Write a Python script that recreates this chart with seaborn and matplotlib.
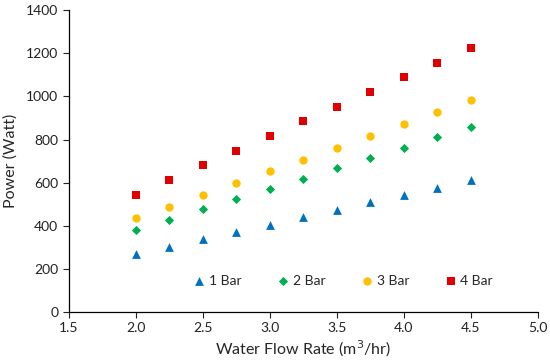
import numpy as np
import matplotlib.pyplot as plt
import pandas as pd
import seaborn as sns

flow_rate = [2.0, 2.25, 2.5, 2.75, 3.0, 3.25, 3.5, 3.75, 4.0, 4.25, 4.5]
bar_1 = [269, 303, 337, 371, 405, 440, 474, 510, 544, 576, 611]
bar_2 = [379, 427, 476, 524, 572, 618, 666, 716, 762, 811, 858]
bar_3 = [434, 488, 544, 598, 654, 706, 762, 817, 872, 926, 981]
bar_4 = [544, 612, 680, 748, 816, 884, 952, 1020, 1088, 1156, 1224]
series_names = ['1 Bar', '2 Bar', '3 Bar', '4 Bar']


def build_frame():
    rows = []
    for name, vals in zip(series_names, [bar_1, bar_2, bar_3, bar_4]):
        for x, y in zip(flow_rate, vals):
            rows.append({'flow': x, 'power': y, 'pressure': name})
    return pd.DataFrame(rows)


if __name__ == "__main__":

    df = build_frame()
    sns.set_style('white')
    plt.rcParams['font.family'] = ['Lato', 'DejaVu Sans']

    fig = plt.figure(figsize=(5.5, 3.62), dpi=100)
    ax = fig.add_axes([0.125, 0.138, 0.853, 0.834])

    palette = {'1 Bar': '#0070C0', '2 Bar': '#00B050', '3 Bar': '#FFC000', '4 Bar': '#E00000'}
    markers = {'1 Bar': '^', '2 Bar': 'D', '3 Bar': 'o', '4 Bar': 's'}
    sizes = {'1 Bar': 40, '2 Bar': 22, '3 Bar': 36, '4 Bar': 32}

    for name in series_names:
        sub = df[df['pressure'] == name]
        sns.scatterplot(data=sub, x='flow', y='power', color=palette[name],
                        marker=markers[name], s=sizes[name], linewidth=0,
                        label=name, ax=ax)

    ax.set_xlim(1.5, 5.0)
    ax.set_ylim(0, 1400)
    ax.set_xticks(np.arange(1.5, 5.01, 0.5))
    ax.set_xticklabels([f'{v:.1f}' for v in np.arange(1.5, 5.01, 0.5)])
    ax.set_yticks(np.arange(0, 1401, 200))
    ax.tick_params(axis='both', labelsize=10, colors='#222222', length=4,
                   direction='out', bottom=True, left=True)
    sns.despine(ax=ax)
    for sp in ['left', 'bottom']:
        ax.spines[sp].set_color('#000000')
        ax.spines[sp].set_linewidth(0.9)

    ax.set_xlabel('Water Flow Rate (m$^3$/hr)', fontsize=11.5, labelpad=3)
    ax.set_ylabel('Power (Watt)', fontsize=11.5, labelpad=6)

    ax.legend(loc='center', bbox_to_anchor=(0.585, 0.103), ncol=4, frameon=False,
              fontsize=10, handlelength=0.8, handletextpad=0.3,
              columnspacing=2.6, markerscale=1.0)

    fig.savefig('out.png', dpi=100)
